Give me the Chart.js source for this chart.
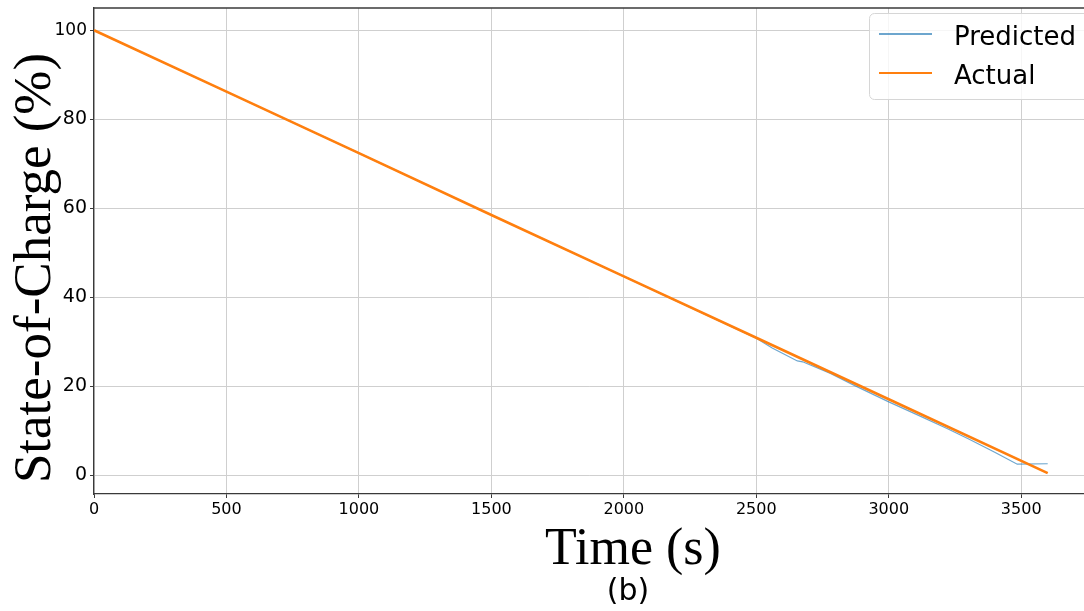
<!DOCTYPE html>
<html>
<head>
<meta charset="utf-8">
<script src="https://cdn.jsdelivr.net/npm/chart.js@4/dist/chart.umd.min.js"></script>
<style>
  html, body { margin: 0; padding: 0; background: #fff; overflow: hidden; }
  #wrap { width: 1084px; height: 611px; position: relative; }
</style>
</head>
<body>
<div id="wrap"><canvas id="myChart"></canvas></div>
<script>
// values
const timeActual = [0, 500, 1000, 1500, 2000, 2500, 3000, 3600]
const socActual = [100, 86.2, 72.4, 58.5, 44.7, 30.9, 17.1, 0.5]

const timePred = [0, 500, 1000, 1500, 2000, 2500, 2560, 2655, 2675, 2780, 2870, 3000, 3100, 3220, 3300, 3400, 3485, 3600]
const socPred = [100, 86.2, 72.4, 58.5, 44.7, 30.8, 28.6, 25.7, 25.5, 22.9, 20.2, 16.5, 13.8, 10.5, 8.2, 5.2, 2.5, 2.6]

const xTicks = [0, 500, 1000, 1500, 2000, 2500, 3000, 3500]
const yTicks = [0, 20, 40, 60, 80, 100]

const toPoints = (xs, ys) => xs.map((x, i) => ({ x: x, y: ys[i] }))

const gridColor = '#cfcfcf'
const spineColor = '#3a3a3a'

const extraText = {
  id: 'extraText',
  afterDraw(chart) {
    const ctx = chart.ctx
    const a = chart.chartArea
    ctx.save()
    // top spine
    ctx.strokeStyle = spineColor
    ctx.lineWidth = 1.3
    ctx.beginPath()
    ctx.moveTo(a.left, a.top)
    ctx.lineTo(a.right, a.top)
    ctx.stroke()

    // legend box
    const bx = 869, by = 13, bw = 230, bh = 86, r = 5
    ctx.fillStyle = 'rgba(255,255,255,0.8)'
    ctx.strokeStyle = '#d6d6d6'
    ctx.lineWidth = 1
    ctx.beginPath()
    ctx.roundRect(bx + 0.5, by + 0.5, bw, bh, r)
    ctx.fill()
    ctx.stroke()
    ctx.font = '26px "DejaVu Sans"'
    ctx.textBaseline = 'alphabetic'
    ctx.textAlign = 'left'
    const rows = [34, 73]
    chart.data.datasets.forEach((ds, i) => {
      ctx.strokeStyle = ds.borderColor
      ctx.lineWidth = 2
      ctx.beginPath()
      ctx.moveTo(879, rows[i])
      ctx.lineTo(932, rows[i])
      ctx.stroke()
      ctx.fillStyle = '#000'
      ctx.fillText(ds.label, 954, rows[i] + 11)
    })

    // axis titles
    ctx.fillStyle = '#000'
    ctx.textAlign = 'center'
    ctx.font = '52px "Liberation Serif"'
    ctx.fillText('Time (s)', 633, 564)
    ctx.font = '30px "DejaVu Sans"'
    ctx.fillText('(b)', 628, 600)
    ctx.translate(50, 268)
    ctx.rotate(-Math.PI / 2)
    ctx.font = '53px "Liberation Serif"'
    ctx.fillText('State-of-Charge (%)', 0, 0)
    ctx.restore()
  }
}

const data = {
  datasets: [{
    label: 'Predicted',
    data: toPoints(timePred, socPred),
    borderColor: 'rgba(31,119,180,0.65)',
    borderWidth: 1.2,
    pointRadius: 0,
    tension: 0,
    order: 1
  }, {
    label: 'Actual',
    data: toPoints(timeActual, socActual),
    borderColor: '#ff7f0e',
    borderWidth: 2.6,
    pointRadius: 0,
    tension: 0,
    order: 0
  }]
}

const config = {
  type: 'line',
  data: data,
  plugins: [extraText],
  options: {
    responsive: true,
    maintainAspectRatio: false,
    animation: false,
    layout: { padding: { top: 8, right: 0, bottom: 0, left: 0 } },
    plugins: {
      legend: { display: false },
      tooltip: { enabled: false }
    },
    scales: {
      x: {
        type: 'linear',
        min: 0,
        max: 3737,
        afterBuildTicks: s => { s.ticks = xTicks.map(v => ({ value: v })) },
        afterFit: s => { s.height = 117; s.paddingLeft = 0; s.paddingRight = 0 },
        ticks: {
          color: '#000',
          font: { family: 'DejaVu Sans', size: 16 },
          padding: 2,
          maxRotation: 0,
          callback: v => String(v)
        },
        grid: { color: gridColor, lineWidth: 1, tickLength: 4, tickColor: spineColor },
        border: { color: spineColor, width: 1.3 }
      },
      y: {
        min: -4.2,
        max: 105,
        afterBuildTicks: s => { s.ticks = yTicks.map(v => ({ value: v })) },
        afterFit: s => { s.width = 94; s.paddingTop = 0; s.paddingBottom = 0 },
        ticks: {
          color: '#000',
          font: ctx => ({ family: 'DejaVu Sans', size: ctx.tick && ctx.tick.value === 100 ? 17 : 19 }),
          padding: 3,
          callback: v => String(v)
        },
        grid: { color: gridColor, lineWidth: 1, tickLength: 4, tickColor: spineColor },
        border: { color: spineColor, width: 1.3 }
      }
    }
  }
}

const myChart = new Chart(document.getElementById('myChart'), config)
</script>
</body>
</html>
